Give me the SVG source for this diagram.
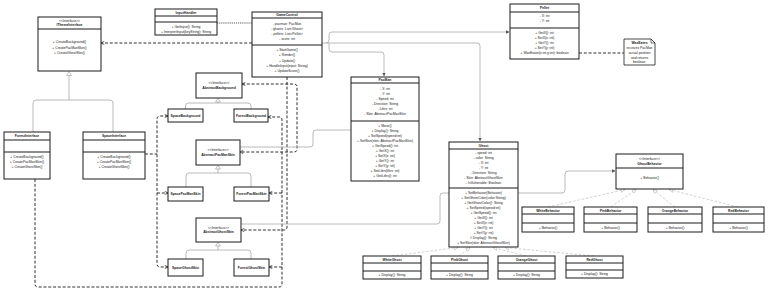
<svg xmlns="http://www.w3.org/2000/svg" width="768" height="299" viewBox="0 0 768 299">
<defs>
<style>
.bx{fill:#fff;stroke:#1a1a1a;stroke-width:1}
.dv{stroke:#1a1a1a;stroke-width:1}
text{font-family:"Liberation Sans",Arial,sans-serif;font-size:3.4px;fill:#1a1a1a;text-anchor:middle}
.n{font-weight:bold}
.dep{fill:none;stroke:#1a1a1a;stroke-width:0.9;stroke-dasharray:3 1.8}
.dot{fill:none;stroke:#333;stroke-width:0.8;stroke-dasharray:1.2 0.9}
.gen{fill:none;stroke:#a8a8a8;stroke-width:0.8}
.asc{fill:none;stroke:#a8a8a8;stroke-width:0.8}
.rea{fill:none;stroke:#b0b0b0;stroke-width:0.6;stroke-dasharray:2.5 1.8}
.tri{fill:#fff;stroke:#999;stroke-width:0.6}
</style>
<marker id="oa" viewBox="0 0 6 6" refX="5.5" refY="3" markerWidth="4" markerHeight="4" markerUnits="userSpaceOnUse" orient="auto-start-reverse"><path d="M0.5,0.5 L5.5,3 L0.5,5.5" fill="none" stroke="#1a1a1a" stroke-width="1"/></marker>
<marker id="fa" viewBox="0 0 6 6" refX="5.5" refY="3" markerWidth="3.5" markerHeight="3.5" markerUnits="userSpaceOnUse" orient="auto"><path d="M0,0 L6,3 L0,6 Z" fill="#555"/></marker>
<marker id="ht" viewBox="0 0 8 8" refX="7.5" refY="4" markerWidth="4.5" markerHeight="4.5" markerUnits="userSpaceOnUse" orient="auto"><path d="M0.5,0.5 L7.5,4 L0.5,7.5 Z" fill="#fff" stroke="#999" stroke-width="0.8"/></marker>
</defs>
<rect width="768" height="299" fill="#fff"/>

<g id="connectors">
<!-- dependencies -->
<path class="dep" d="M252,43 H101" marker-end="url(#oa)"/>
<path class="dot" d="M217,23 H252"/>
<path class="dep" d="M145,154 H157"/>
<path class="dep" d="M168,116 H160 Q157,116 157,119 V264 Q157,267 160,267 H168" marker-start="url(#oa)" marker-end="url(#oa)"/>
<path class="dep" d="M157,193 H168" marker-end="url(#oa)"/>
<path class="dep" d="M35,179 V284 Q35,287 38,287 H279 Q282,287 282,284 V120 Q282,117 279,117 H268" marker-end="url(#oa)"/>
<path class="dep" d="M282,193 H269" marker-end="url(#oa)"/>
<path class="dep" d="M282,267 H269" marker-end="url(#oa)"/>
<path class="dep" d="M242,84 H294 Q297,84 297,87 V149 Q297,152 294,152 H240" marker-start="url(#oa)" marker-end="url(#oa)"/>
<path class="dep" d="M287,77 V227 Q287,230 284,230 H241" marker-end="url(#oa)"/>
<path class="dep" d="M579,53 H624"/>
<!-- associations -->
<path class="asc" d="M322,43 H326 Q329,43 329,40 V35 Q329,32 332,32 H509" marker-end="url(#fa)"/>
<path class="asc" d="M326,43 H477 Q480,43 480,46 V141" marker-end="url(#fa)"/>
<path class="asc" d="M329,43 V49 Q329,52 332,52 H381 Q384,52 384,55 V76" marker-end="url(#fa)"/>
<path class="asc" d="M351,130 H316 Q313,130 313,133 V144 Q313,147 310,147 H240"/>
<path class="asc" d="M449,193 H443 Q440,193 440,196 V221 Q440,224 437,224 H241"/>
<path class="asc" d="M518,193 H562 Q565,193 565,190 V174 Q565,171 568,171 H615" marker-end="url(#fa)"/>
<!-- generalizations -->
<path class="gen" d="M69,75.5 V100 M33,132 V103 Q33,100 36,100 H110 Q113,100 113,103 V132"/>
<polygon class="tri" points="69,71.5 66.5,75.5 71.5,75.5"/>
<path class="gen" d="M218,102 V103 M185.5,109 V106 Q185.5,103 188.5,103 H248 Q251,103 251,106 V109"/>
<polygon class="tri" points="218,98.5 215.5,102 220.5,102"/>
<path class="gen" d="M218,169 V173 M186,187 V176 Q186,173 189,173 H248 Q251,173 251,176 V187"/>
<polygon class="tri" points="218,165.5 215.5,169 220.5,169"/>
<path class="gen" d="M218,246 V250 M186,259 V253 Q186,250 189,250 H248 Q251,250 251,253 V259"/>
<polygon class="tri" points="218,242.5 215.5,246 220.5,246"/>
<!-- realizations / ghost inheritance -->
<path class="rea" d="M548,207 L625,189.5" marker-end="url(#ht)"/>
<path class="rea" d="M611,207 L636,189.5" marker-end="url(#ht)"/>
<path class="rea" d="M675,207 L653,189.5" marker-end="url(#ht)"/>
<path class="rea" d="M738,207 L669,189.5" marker-end="url(#ht)"/>
<path class="rea" d="M392,256 L458,247.5" marker-end="url(#ht)"/>
<path class="rea" d="M459,256 L470,247.5" marker-end="url(#ht)"/>
<path class="rea" d="M526,256 L493,247.5" marker-end="url(#ht)"/>
<path class="rea" d="M594,256 L505,247.5" marker-end="url(#ht)"/>
</g>

<g id="IThemeInterface">
<rect class="bx" x="38" y="17" width="63" height="54"/>
<line class="dv" x1="38" y1="29" x2="101" y2="29"/>
<text x="69.5" y="22.2">&lt;&lt;Interface&gt;&gt;</text>
<text class="n" x="69.5" y="26.4">IThemeInterface</text>
<text x="69.5" y="43.4">+ CreateBackground()</text>
<text x="69.5" y="48.5">+ CreatePacManSkin()</text>
<text x="69.5" y="53.6">+ CreateGhostSkin()</text>
</g>

<g id="ForestInterface">
<rect class="bx" x="4" y="132" width="46" height="47"/>
<line class="dv" x1="4" y1="140" x2="50" y2="140"/>
<line class="dv" x1="4" y1="152" x2="50" y2="152"/>
<text class="n" x="27" y="137.2">ForestInterface</text>
<text x="27" y="158.2">+ CreateBackground()</text>
<text x="27" y="163.2">+ CreatePacManSkin()</text>
<text x="27" y="168.2">+ CreateGhostSkin()</text>
</g>

<g id="SpaceInterface">
<rect class="bx" x="83" y="132" width="62" height="47"/>
<line class="dv" x1="83" y1="140" x2="145" y2="140"/>
<line class="dv" x1="83" y1="152" x2="145" y2="152"/>
<text class="n" x="114" y="137.2">SpaceInterface</text>
<text x="114" y="158.2">+ CreateBackground()</text>
<text x="114" y="163.2">+ CreatePacManSkin()</text>
<text x="114" y="168.2">+ CreateGhostSkin()</text>
</g>

<g id="InputHandler">
<rect class="bx" x="155" y="9" width="62" height="26"/>
<line class="dv" x1="155" y1="16" x2="217" y2="16"/>
<line class="dv" x1="155" y1="22" x2="217" y2="22"/>
<text class="n" x="186" y="13.7">InputHandler</text>
<text x="186" y="28.2">+ GetInput(): String</text>
<text x="186" y="33.2">+ InterpretInput(keyString): String</text>
</g>

<g id="GameControl">
<rect class="bx" x="252" y="12" width="70" height="65"/>
<line class="dv" x1="252" y1="18" x2="322" y2="18"/>
<line class="dv" x1="252" y1="45" x2="322" y2="45"/>
<text class="n" x="287" y="16.2">GameControl</text>
<text x="287" y="25.2">- pacman: PacMan</text>
<text x="287" y="30.2">- ghosts: List&lt;Ghost&gt;</text>
<text x="287" y="35.2">- pellets: List&lt;Pellet&gt;</text>
<text x="287" y="40.2">- score: int</text>
<text x="287" y="51.2">+ StartGame()</text>
<text x="287" y="56.2">+ Render()</text>
<text x="287" y="61.6">+ Update()</text>
<text x="287" y="66.8">+ HandleInput(input: String)</text>
<text x="287" y="72">+ UpdateScore()</text>
</g>

<g id="Pellet">
<rect class="bx" x="510" y="4" width="69" height="55"/>
<line class="dv" x1="510" y1="12" x2="579" y2="12"/>
<line class="dv" x1="510" y1="28" x2="579" y2="28"/>
<text class="n" x="544.5" y="9.2">Pellet</text>
<text x="544.5" y="17.2">- X: int</text>
<text x="544.5" y="22.2">- Y: int</text>
<text x="544.5" y="33.8">+ GetX(): int</text>
<text x="544.5" y="38.8">+ SetX(x: int)</text>
<text x="544.5" y="43.8">+ GetY(): int</text>
<text x="544.5" y="48.8">+ SetY(y: int)</text>
<text x="544.5" y="53.8">+ WasEaten(x:int,y:int): boolean</text>
</g>

<g id="note">
<path d="M624,39 H651 L655,43 V65 H624 Z" fill="#fff" stroke="#1a1a1a" stroke-width="0.8"/>
<path d="M651,39 V43 H655" fill="none" stroke="#1a1a1a" stroke-width="0.6"/>
<text class="n" x="639.5" y="44.2">WasEaten</text>
<text x="639.5" y="49">receives PacMan</text>
<text x="639.5" y="53.8">actual position</text>
<text x="639.5" y="58.6">and returns</text>
<text x="639.5" y="63.4">boolean.</text>
</g>

<g id="PacMan">
<rect class="bx" x="351" y="77" width="68" height="104"/>
<line class="dv" x1="351" y1="83" x2="419" y2="83"/>
<line class="dv" x1="351" y1="121" x2="419" y2="121"/>
<text class="n" x="385" y="81.2">PacMan</text>
<text x="385" y="90.2">- X: int</text>
<text x="385" y="95.2">- Y: int</text>
<text x="385" y="100.2">- Speed: int</text>
<text x="385" y="105.2">- Direction: String</text>
<text x="385" y="110.2">- Lifes: int</text>
<text x="385" y="115.2">- Skin: AbstractPacManSkin</text>
<text x="385" y="127.2">+ Move()</text>
<text x="385" y="132.2">+ Display(): String</text>
<text x="385" y="137.2">+ SetSpeed(speed:int)</text>
<text x="385" y="142.2">+ SetSkin(skin: AbstractPacManSkin)</text>
<text x="385" y="147.2">+ GetSpeed(): int</text>
<text x="385" y="152.2">+ GetX(): int</text>
<text x="385" y="157.2">+ SetX(x: int)</text>
<text x="385" y="162.2">+ GetY(): int</text>
<text x="385" y="167.2">+ SetY(y: int)</text>
<text x="385" y="172.2">+ SetLifes(lifes: int)</text>
<text x="385" y="177.2">+ GetLifes(): int</text>
</g>

<g id="Ghost">
<rect class="bx" x="449" y="142" width="69" height="105"/>
<line class="dv" x1="449" y1="149" x2="518" y2="149"/>
<line class="dv" x1="449" y1="188" x2="518" y2="188"/>
<text class="n" x="483.5" y="146.7">Ghost</text>
<text x="483.5" y="154.2">- speed: int</text>
<text x="483.5" y="159.2">- color: String</text>
<text x="483.5" y="164.2">- X: int</text>
<text x="483.5" y="169.2">- Y: int</text>
<text x="483.5" y="174.2">- Direction: String</text>
<text x="483.5" y="179.2">- Skin: AbstractGhostSkin</text>
<text x="483.5" y="184.2">- IsVulnerable: Boolean</text>
<text x="483.5" y="194.2">+ SetBehavior(Behavior)</text>
<text x="483.5" y="199.2">+ SetGhostColor(color:String)</text>
<text x="483.5" y="204.2">+ GetGhostColor(): String</text>
<text x="483.5" y="209.2">+ SetSpeed(speed:int)</text>
<text x="483.5" y="214.2">+ GetSpeed(): int</text>
<text x="483.5" y="219.2">+ GetX(): int</text>
<text x="483.5" y="224.2">+ SetX(x: int)</text>
<text x="483.5" y="229.2">+ GetY(): int</text>
<text x="483.5" y="234.2">+ SetY(y: int)</text>
<text x="483.5" y="239.2"># Display(): String</text>
<text x="483.5" y="244.2">+ SetSkin(skin: AbstractGhostSkin)</text>
</g>

<g id="GhostBehavior">
<rect class="bx" x="616" y="154" width="67" height="35"/>
<line class="dv" x1="616" y1="168" x2="683" y2="168"/>
<text x="649.5" y="160.2">&lt;&lt;Interface&gt;&gt;</text>
<text class="n" x="649.5" y="164.6">GhostBehavior</text>
<text x="649.5" y="179.2">+ Behavior()</text>
</g>

<g id="WhiteBehavior">
<rect class="bx" x="522" y="207" width="52" height="25"/>
<line class="dv" x1="522" y1="214" x2="574" y2="214"/>
<line class="dv" x1="522" y1="223" x2="574" y2="223"/>
<text class="n" x="548" y="211.7">WhiteBehavior</text>
<text x="548" y="229">+ Behavior()</text>
</g>
<g id="PinkBehavior">
<rect class="bx" x="584" y="207" width="53" height="25"/>
<line class="dv" x1="584" y1="214" x2="637" y2="214"/>
<line class="dv" x1="584" y1="223" x2="637" y2="223"/>
<text class="n" x="610.5" y="211.7">PinkBehavior</text>
<text x="610.5" y="229">+ Behavior()</text>
</g>
<g id="OrangeBehavior">
<rect class="bx" x="648" y="207" width="54" height="25"/>
<line class="dv" x1="648" y1="214" x2="702" y2="214"/>
<line class="dv" x1="648" y1="223" x2="702" y2="223"/>
<text class="n" x="675" y="211.7">OrangeBehavior</text>
<text x="675" y="229">+ Behavior()</text>
</g>
<g id="RedBehavior">
<rect class="bx" x="713" y="207" width="51" height="25"/>
<line class="dv" x1="713" y1="214" x2="764" y2="214"/>
<line class="dv" x1="713" y1="223" x2="764" y2="223"/>
<text class="n" x="738.5" y="211.7">RedBehavior</text>
<text x="738.5" y="229">+ Behavior()</text>
</g>

<g id="WhiteGhost">
<rect class="bx" x="363" y="256" width="58" height="23"/>
<line class="dv" x1="363" y1="263" x2="421" y2="263"/>
<line class="dv" x1="363" y1="271" x2="421" y2="271"/>
<text class="n" x="392" y="260.7">WhiteGhost</text>
<text x="392" y="276.2">+ Display(): String</text>
</g>
<g id="PinkGhost">
<rect class="bx" x="431" y="256" width="57" height="23"/>
<line class="dv" x1="431" y1="263" x2="488" y2="263"/>
<line class="dv" x1="431" y1="271" x2="488" y2="271"/>
<text class="n" x="459.5" y="260.7">PinkGhost</text>
<text x="459.5" y="276.2">+ Display(): String</text>
</g>
<g id="OrangeGhost">
<rect class="bx" x="498" y="256" width="57" height="23"/>
<line class="dv" x1="498" y1="263" x2="555" y2="263"/>
<line class="dv" x1="498" y1="271" x2="555" y2="271"/>
<text class="n" x="526.5" y="260.7">OrangeGhost</text>
<text x="526.5" y="276.2">+ Display(): String</text>
</g>
<g id="RedGhost">
<rect class="bx" x="566" y="256" width="57" height="22"/>
<line class="dv" x1="566" y1="263" x2="623" y2="263"/>
<line class="dv" x1="566" y1="270" x2="623" y2="270"/>
<text class="n" x="594.5" y="260.7">RedGhost</text>
<text x="594.5" y="275.2">+ Display(): String</text>
</g>

<g id="AbstractBackground">
<rect class="bx" x="196" y="73" width="46" height="25"/>
<text x="219" y="84.2">&lt;&lt;Interface&gt;&gt;</text>
<text class="n" x="219" y="88.6">AbstractBackground</text>
</g>
<g id="SpaceBackground">
<rect class="bx" x="168" y="109" width="35" height="13"/>
<text class="n" x="185.5" y="116.7">SpaceBackground</text>
</g>
<g id="ForestBackground">
<rect class="bx" x="234" y="109" width="34" height="13"/>
<text class="n" x="251" y="116.7">ForestBackground</text>
</g>

<g id="AbstractPacManSkin">
<rect class="bx" x="196" y="140" width="44" height="25"/>
<text x="218" y="151.2">&lt;&lt;Interface&gt;&gt;</text>
<text class="n" x="218" y="155.6">AbstractPacManSkin</text>
</g>
<g id="SpacePacManSkin">
<rect class="bx" x="168" y="187" width="35" height="14"/>
<text class="n" x="185.5" y="195.2">SpacePacManSkin</text>
</g>
<g id="ForestPacManSkin">
<rect class="bx" x="234" y="187" width="35" height="14"/>
<text class="n" x="251.5" y="195.2">ForestPacManSkin</text>
</g>

<g id="AbstractGhostSkin">
<rect class="bx" x="196" y="218" width="45" height="24"/>
<text x="218.5" y="228.7">&lt;&lt;Interface&gt;&gt;</text>
<text class="n" x="218.5" y="233.1">AbstractGhostSkin</text>
</g>
<g id="SpaceGhostSkin">
<rect class="bx" x="168" y="259" width="35" height="17"/>
<text class="n" x="185.5" y="268.7">SpaceGhostSkin</text>
</g>
<g id="ForestGhostSkin">
<rect class="bx" x="234" y="259" width="35" height="17"/>
<text class="n" x="251.5" y="268.7">ForestGhostSkin</text>
</g>
</svg>
